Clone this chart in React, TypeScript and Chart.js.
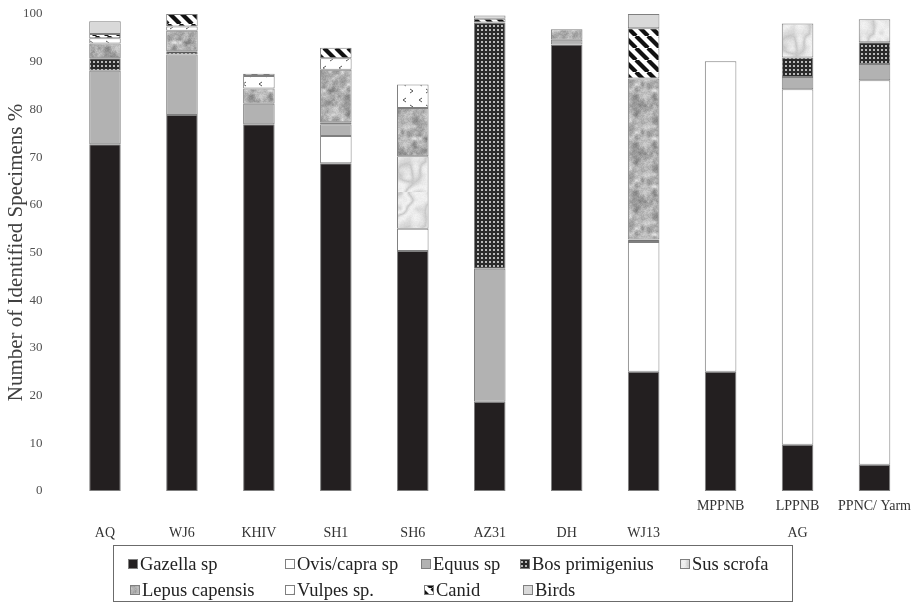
import React, { useEffect, useRef } from 'react';
import { Chart, registerables } from 'chart.js';

Chart.register(...registerables);

// ---------- DATA ----------
const siteLabels = ['', '', '', '', '', '', '', '', 'MPPNB', 'LPPNB', 'PPNC/ Yarm'];
const groupLabels = ['AQ', 'WJ6', 'KHIV', 'SH1', 'SH6', 'AZ31', 'DH', 'WJ13', '', 'AG', ''];
const speciesNames = ['Gazella sp', 'Ovis/capra sp', 'Equus sp', 'Bos primigenius', 'Sus scrofa', 'Lepus capensis', 'Vulpes sp.', 'Canid', 'Birds'];

const gazella = [72.7, 78.8, 76.9, 68.7, 50.3, 18.7, 93.6, 25.0, 25.0, 9.7, 5.5];
const ovis = [0, 0, 0, 5.7, 4.7, 0, 0, 27.2, 65.1, 74.5, 80.6];
const equus = [15.4, 12.7, 4.3, 2.5, 0, 27.9, 1.0, 0, 0, 2.6, 3.4];
const bos = [2.6, 0.7, 0, 0.4, 0, 51.6, 0, 0.5, 0, 4.1, 4.6];
const sus = [0, 0, 0, 0, 15.2, 0, 0, 0, 0, 7.1, 4.8];
const lepus = [3.1, 4.3, 3.2, 11.0, 10.1, 0, 2.2, 33.8, 0, 0, 0];
const vulpes = [1.1, 0.9, 2.6, 2.4, 4.9, 0, 0, 0, 0, 0, 0];
const canid = [0.9, 2.6, 0.5, 2.2, 0, 0.8, 0, 10.5, 0, 0, 0];
const birds = [2.7, 0, 0, 0, 0, 0.7, 0, 3.0, 0, 0, 0];

const yTitle = 'Number of Identified Specimens %';

// ---------- STYLE ----------
const FONT = "'Liberation Serif', 'Times New Roman', serif";

function hash(x: number, y: number, s: number) {
  const v = Math.sin(x * 127.1 + y * 311.7 + s * 74.7) * 43758.5453;
  return v - Math.floor(v);
}
function valueNoise(x: number, y: number, cell: number, size: number, seed: number) {
  const n = Math.round(size / cell);
  const gx = x / cell, gy = y / cell;
  const x0 = Math.floor(gx), y0 = Math.floor(gy);
  const fx = gx - x0, fy = gy - y0;
  const sx = fx * fx * (3 - 2 * fx), sy = fy * fy * (3 - 2 * fy);
  const h = (i: number, j: number) => hash(((i % n) + n) % n, ((j % n) + n) % n, seed);
  const a = h(x0, y0), b = h(x0 + 1, y0), c = h(x0, y0 + 1), d = h(x0 + 1, y0 + 1);
  return a + (b - a) * sx + (c - a) * sy + (a - b - c + d) * sx * sy;
}
function tile(size: number, draw: (c: CanvasRenderingContext2D, s: number) => void) {
  const cv = document.createElement('canvas');
  cv.width = size; cv.height = size;
  const c = cv.getContext('2d')!;
  draw(c, size);
  return cv;
}
function pixelTile(size: number, fn: (x: number, y: number) => number) {
  return tile(size, (c, s) => {
    const img = c.createImageData(s, s);
    for (let y = 0; y < s; y++) for (let x = 0; x < s; x++) {
      const g = Math.max(0, Math.min(255, Math.round(fn(x, y))));
      const i = (y * s + x) * 4;
      img.data[i] = g; img.data[i + 1] = g; img.data[i + 2] = g; img.data[i + 3] = 255;
    }
    c.putImageData(img, 0, 0);
  });
}

function makeFills(ctx: CanvasRenderingContext2D) {
  const bosTile = tile(4, (c) => {
    c.fillStyle = '#2a2a2a'; c.fillRect(0, 0, 4, 4);
    c.fillStyle = '#b8b8b8'; c.fillRect(1, 1, 2, 2);
  });
  const marbleTile = pixelTile(64, (x, y) => {
    const t = valueNoise(x, y, 16, 64, 3) + 0.5 * valueNoise(x, y, 8, 64, 4);
    const v = Math.abs(Math.sin((x * 0.5 + y * 0.35) / 5 + t * 5));
    return 200 + v * 40 + (hash(x, y, 9) - 0.5) * 8;
  });
  const graniteTile = pixelTile(48, (x, y) => {
    const v = 0.55 * valueNoise(x, y, 6, 48, 1) + 0.3 * valueNoise(x, y, 3, 48, 2) + 0.15 * hash(x, y, 5);
    return 108 + v * 135;
  });
  const vulpesTile = tile(16, (c) => {
    c.fillStyle = '#ffffff'; c.fillRect(0, 0, 16, 16);
    c.strokeStyle = '#555'; c.lineWidth = 1;
    c.beginPath(); c.moveTo(6, 2); c.lineTo(3, 4); c.lineTo(6, 6); c.stroke();
    c.beginPath(); c.moveTo(10, 9); c.lineTo(13, 11); c.lineTo(10, 13); c.stroke();
  });
  const canidTile = tile(12, (c) => {
    c.fillStyle = '#ffffff'; c.fillRect(0, 0, 12, 12);
    c.strokeStyle = '#111'; c.lineWidth = 4.2;
    for (const o of [-12, 0, 12]) { c.beginPath(); c.moveTo(o, 0); c.lineTo(o + 12, 12); c.stroke(); }
  });
  return [
    '#231f20',
    '#ffffff',
    '#b2b2b2',
    ctx.createPattern(bosTile, 'repeat')!,
    ctx.createPattern(marbleTile, 'repeat')!,
    ctx.createPattern(graniteTile, 'repeat')!,
    ctx.createPattern(vulpesTile, 'repeat')!,
    ctx.createPattern(canidTile, 'repeat')!,
    '#d9d9d9',
  ];
}

// legend layout: [x, row]
const legendSlots: [number, number][] = [
  [128, 0], [285, 0], [421, 0], [520, 0], [680, 0],
  [130, 1], [285, 1], [424, 1], [523, 1],
];

const legendPlugin = {
  id: 'customLegend',
  afterDraw(chart: any) {
    const { ctx } = chart;
    ctx.save();
    ctx.strokeStyle = '#6b6b6b';
    ctx.lineWidth = 1;
    ctx.strokeRect(113.5, 545.5, 679, 56);
    ctx.font = `18.5px ${FONT}`;
    ctx.textBaseline = 'middle';
    ctx.textAlign = 'left';
    chart.data.datasets.forEach((ds: any, i: number) => {
      const [x, row] = legendSlots[i];
      const cy = row === 0 ? 564 : 590;
      ctx.fillStyle = ds.backgroundColor;
      ctx.fillRect(x, cy - 5, 10, 10);
      ctx.strokeStyle = '#7f7f7f';
      ctx.strokeRect(x + 0.5, cy - 4.5, 9, 9);
      ctx.fillStyle = '#222';
      ctx.fillText(ds.label, x + 12, cy + 1);
    });
    ctx.restore();
  },
};

export default function App() {
  const ref = useRef<HTMLCanvasElement>(null);
  useEffect(() => {
    const canvas = ref.current!;
    const ctx = canvas.getContext('2d')!;
    const fills = makeFills(ctx);
    const series = [gazella, ovis, equus, bos, sus, lepus, vulpes, canid, birds];
    const datasets = series.map((arr, k) => ({
      label: speciesNames[k],
      data: arr.map((v) => (v === 0 ? null : v)),
      backgroundColor: fills[k] as any,
      borderColor: '#7f7f7f',
      borderWidth: 1,
      borderSkipped: false as any,
      barPercentage: 0.41,
      categoryPercentage: 1,
    }));
    const chart = new Chart(canvas, {
      type: 'bar',
      data: { labels: siteLabels.map((s, i) => [s, groupLabels[i]]), datasets },
      options: {
        animation: false,
        responsive: false,
        maintainAspectRatio: false,
        layout: { padding: { top: 14, right: 2, left: 0, bottom: 0 } },
        plugins: { legend: { display: false }, tooltip: { enabled: false } },
        scales: {
          x: {
            stacked: true,
            grid: { display: false },
            border: { display: false },
            ticks: {
              font: { family: FONT, size: 14, lineHeight: '27px' },
              color: '#333',
              padding: -6,
              maxRotation: 0,
              autoSkip: false,
            },
            afterFit: (s: any) => { s.height = 113; s.paddingLeft = 0; s.paddingRight = 0; },
          },
          y: {
            stacked: true,
            min: 0,
            max: 100,
            ticks: { stepSize: 10, font: { family: FONT, size: 13 }, color: '#505050', padding: 16 },
            grid: { display: false },
            border: { display: false },
            title: {
              display: true,
              text: yTitle,
              font: { family: FONT, size: 21 },
              color: '#404040',
              padding: { top: 4, bottom: 0 },
            },
            afterFit: (s: any) => { s.width = 66.5; s.paddingTop = 0; s.paddingBottom = 0; },
          },
        },
      } as any,
      plugins: [legendPlugin],
    });
    return () => chart.destroy();
  }, []);
  return (
    <div style={{ position: 'absolute', left: 0, top: 0, width: 915, height: 604, background: '#fff' }}>
      <canvas ref={ref} width={915} height={604} style={{ width: 915, height: 604, display: 'block' }} />
    </div>
  );
}
